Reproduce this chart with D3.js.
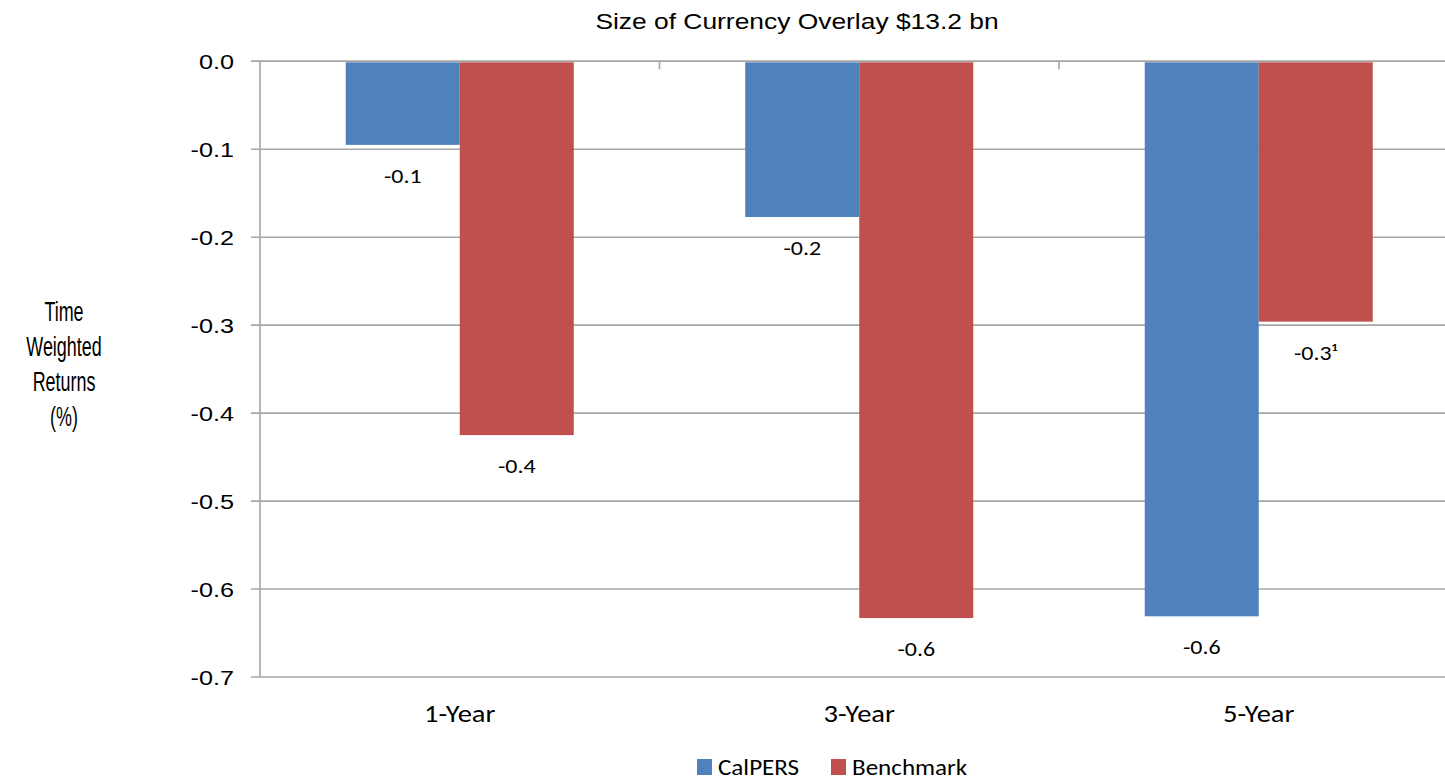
<!DOCTYPE html>
<html>
<head>
<meta charset="utf-8">
<script src="https://cdn.jsdelivr.net/npm/d3@7"></script>
<style>
  html, body { margin: 0; padding: 0; background: #fff; }
  svg { display: block; }
</style>
</head>
<body>
<svg id="chart" width="1445" height="782"></svg>
<script>
// Time-weighted returns of the currency overlay program
const categories = ["1-Year", "3-Year", "5-Year"];
const seriesNames = ["CalPERS", "Benchmark"];
const calpersValues = [-0.095, -0.177, -0.631];
const benchmarkValues = [-0.425, -0.633, -0.296];
const labelNotes = [["", "", ""], ["", "", "¹"]];
const yTicks = [0.0, -0.1, -0.2, -0.3, -0.4, -0.5, -0.6, -0.7];
const colors = ["#4F81BD", "#C0504D"];

const svg = d3.select("#chart");
const W = 1445, H = 782;
const plot = { left: 260, right: 1458.5, top: 61.3, bottom: 677 };

const sansArial = "'Liberation Sans', Arial, sans-serif";
const sansSoft = "Carlito, Calibri, Lato, 'Open Sans', sans-serif";
const wideArial = 1.2;   // horizontal stretch of the Arial-style text
const wideSoft = 1.14;   // horizontal stretch of the rounded-style text

const locale = d3.formatLocale({ decimal: ".", thousands: ",", grouping: [3], currency: ["$", ""], minus: "-" });
const fmt = locale.format(".1f");

const x0 = d3.scaleBand().domain(categories).range([plot.left, plot.right]).padding(0);
const x1 = d3.scaleBand().domain(seriesNames).range([0, x0.bandwidth()]).paddingInner(0).paddingOuter(0.752);
const y = d3.scaleLinear().domain([0, -0.7]).range([plot.top, plot.bottom]);

const rows = categories.map((c, i) => ({
  category: c,
  values: [calpersValues[i], benchmarkValues[i]].map((v, s) => ({
    series: seriesNames[s], value: v, color: colors[s], note: labelNotes[s][i]
  }))
}));

// place a text element at (x, y) with a horizontal stretch
function stretched(sel, x, yy, sx) {
  return sel.append("g").attr("transform", `translate(${x},${yy}) scale(${sx},1)`).append("text");
}

// horizontal gridlines
svg.append("g").selectAll("line").data(yTicks).join("line")
  .attr("x1", plot.left - 9).attr("x2", W)
  .attr("y1", d => y(d)).attr("y2", d => y(d))
  .attr("stroke", "#a6a6a6").attr("stroke-width", 1.6);

// bars
const groups = svg.append("g").selectAll("g").data(rows).join("g")
  .attr("transform", d => `translate(${x0(d.category)},0)`);

groups.selectAll("rect").data(d => d.values).join("rect")
  .attr("x", d => x1(d.series))
  .attr("width", x1.bandwidth())
  .attr("y", d => y(0) + 1)
  .attr("height", d => y(d.value) - y(0) - 1)
  .attr("fill", d => d.color);

// value labels below each bar
groups.each(function (row) {
  const g = d3.select(this);
  row.values.forEach(d => {
    const t = stretched(g, x1(d.series) + x1.bandwidth() / 2, y(d.value) + 38, wideSoft)
      .attr("text-anchor", "middle")
      .attr("font-family", sansSoft).attr("font-size", 21).attr("fill", "#000");
    t.append("tspan").text(fmt(d.value));
    if (d.note) t.append("tspan").text(d.note);
  });
});

// vertical axis line
const axis = svg.append("g");
axis.append("line")
  .attr("x1", plot.left).attr("x2", plot.left)
  .attr("y1", plot.top).attr("y2", plot.bottom)
  .attr("stroke", "#a6a6a6").attr("stroke-width", 1.6);

// zero line on top of the bars, with category separators
axis.append("line")
  .attr("x1", plot.left - 9).attr("x2", W)
  .attr("y1", y(0)).attr("y2", y(0))
  .attr("stroke", "#a6a6a6").attr("stroke-width", 1.6);
axis.selectAll("line.sep").data(categories.slice(1)).join("line")
  .attr("class", "sep")
  .attr("x1", d => x0(d)).attr("x2", d => x0(d))
  .attr("y1", y(0)).attr("y2", y(0) + 8)
  .attr("stroke", "#a6a6a6").attr("stroke-width", 1.6);

// y tick labels
yTicks.forEach(v => {
  stretched(axis, 234, y(v) + 8, wideArial)
    .attr("text-anchor", "end")
    .attr("font-family", sansArial).attr("font-size", 21).attr("fill", "#000")
    .text(fmt(v));
});

// category labels
categories.forEach(c => {
  stretched(axis, x0(c) + x0.bandwidth() / 2, 722, wideSoft)
    .attr("text-anchor", "middle")
    .attr("font-family", sansSoft).attr("font-size", 25).attr("fill", "#000")
    .text(c);
});

// title
stretched(svg, 797, 29, wideArial)
  .attr("text-anchor", "middle")
  .attr("font-family", sansArial).attr("font-size", 22).attr("fill", "#000")
  .text("Size of Currency Overlay $13.2 bn");

// y axis title, set in a condensed face
const yTitle = ["Time", "Weighted", "Returns", "(%)"];
yTitle.forEach((line, i) => {
  stretched(svg, 64, 321 + i * 35, 0.64)
    .attr("text-anchor", "middle")
    .attr("font-family", sansArial).attr("font-size", 28).attr("fill", "#000")
    .text(line);
});

// legend
const legendX = [697, 831];
seriesNames.forEach((name, i) => {
  svg.append("rect")
    .attr("x", legendX[i]).attr("y", 759)
    .attr("width", 15).attr("height", 16)
    .attr("fill", colors[i]);
  stretched(svg, legendX[i] + 21, 775, wideSoft)
    .attr("font-family", sansSoft).attr("font-size", 22).attr("fill", "#000")
    .text(name);
});
</script>
</body>
</html>
